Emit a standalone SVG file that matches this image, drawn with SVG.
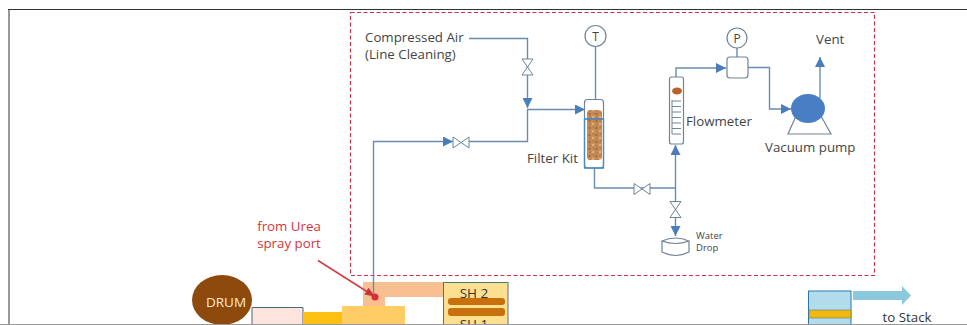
<svg xmlns="http://www.w3.org/2000/svg" width="967" height="325" viewBox="0 0 967 325">
<defs>
<marker id="arr" markerUnits="userSpaceOnUse" markerWidth="10" markerHeight="10" refX="10" refY="5" orient="auto"><path d="M0 0L10 5L0 10Z" fill="#4a7ebb"/></marker>
<marker id="redarr" markerUnits="userSpaceOnUse" markerWidth="10" markerHeight="10" refX="9" refY="5" orient="auto"><path d="M0 1L10 5L0 9Z" fill="#c8323a"/></marker>
<g id="valve"><path d="M-8 -5.500L8 5.500V-5.500L-8 5.500Z" fill="#fff" stroke="#6f8496" stroke-width="1"/></g>
<pattern id="media" patternUnits="userSpaceOnUse" width="7" height="7"><rect width="7" height="7" fill="#c68c55"/><circle cx="1.500" cy="2" r="1.200" fill="#a9693a"/><circle cx="5" cy="5" r="1.300" fill="#dcae7c"/><circle cx="5.500" cy="1" r=".8" fill="#ad7040"/><circle cx="2" cy="5.500" r=".9" fill="#b67a48"/></pattern>
</defs>
<style>
text{font-family:"Open Sans","Noto Sans","Liberation Sans",sans-serif;fill:#444}
.pipe{fill:none;stroke:#6a8cb0;stroke-width:1.4}
.eq{fill:#fff;stroke:#6f8496;stroke-width:1.2}
.lb{font-size:13.300px}
</style>
<rect width="967" height="325" fill="#fff"/>
<path d="M9 325V9.500" fill="none" stroke="#777" stroke-width="1.500"/>
<path d="M8 9.500H967" stroke="#333" stroke-width="1.200"/>
<rect id="boundary" x="350.500" y="12.500" width="524" height="263" fill="none" stroke="#c8324a" stroke-width="1.200" stroke-dasharray="4 2.500"/>

<g id="ductwork">
<path d="M252 325V307.500H303V325" fill="#fde4dc" stroke="#4a6880" stroke-width="1"/>
<rect x="303" y="312" width="39" height="13" fill="#fcc010"/>
<rect x="342" y="306" width="63" height="19" fill="#ffcc66"/>
<rect x="363" y="282" width="22" height="24" fill="#f8c090"/>
<rect x="363" y="282" width="81" height="15" fill="#f8c090"/>
<circle cx="375" cy="297" r="3.500" fill="#dd2c3c"/>
</g>

<g id="connectors">
<path class="pipe" d="M469 38.500H527.500V108" marker-end="url(#arr)"/>
<path class="pipe" d="M373.500 296V141.500H453" marker-end="url(#arr)"/>
<path class="pipe" d="M469 141.500H527.500V109.500H585" marker-end="url(#arr)"/>
<path class="pipe" d="M595.500 47V100"/>
<path class="pipe" d="M594.500 168V188H675.500V145" marker-end="url(#arr)"/>
<path class="pipe" d="M675.500 188V236" marker-end="url(#arr)"/>
<path class="pipe" d="M676 78V68H726" marker-end="url(#arr)"/>
<path class="pipe" d="M737 47V57"/>
<path class="pipe" d="M748 67.500H769.500V109H791" marker-end="url(#arr)"/>
<path class="pipe" d="M820 98V57" marker-end="url(#arr)"/>
<path d="M318 260.500L374 296" fill="none" stroke="#d23a45" stroke-width="1.500" marker-end="url(#redarr)"/>
</g>

<g id="valve-air"><use href="#valve" transform="translate(527.500 67) rotate(90)"/></g>
<g id="valve-inlet"><use href="#valve" transform="translate(461 142.500)"/></g>
<g id="valve-outlet"><use href="#valve" transform="translate(642 189)"/></g>
<g id="valve-drain"><use href="#valve" transform="translate(675.500 209.500) rotate(90)"/></g>

<g id="compressed-air"><text class="lb" x="365" y="42">Compressed Air</text><text class="lb" x="365" y="59">(Line Cleaning)</text></g>

<g id="t-gauge"><circle class="eq" cx="595.500" cy="36" r="10.500"/><text x="595.500" y="41" font-size="12" text-anchor="middle">T</text></g>
<g id="filter-kit">
<rect class="eq" x="584.500" y="99.500" width="19" height="68.500" rx="3"/>
<path d="M584.500 119V168H603.500V119" fill="none" stroke="#4a8ac0" stroke-width="1.300"/>
<rect x="587" y="110" width="15" height="50" rx="3" fill="url(#media)"/>
<path d="M584.500 119H603.500" stroke="#3d85c6" stroke-width="1.500"/>
<text class="lb" x="527" y="163">Filter Kit</text>
</g>

<g id="flowmeter">
<rect class="eq" x="669.500" y="77" width="14" height="67" rx="2"/>
<ellipse cx="677" cy="91" rx="5" ry="3.500" fill="#b8642a"/>
<path d="M672 101H681M672 106.500H681M672 112H681M672 117.500H681M672 123H681M672 128.500H681M672 134H681M672 100V134" stroke="#6f8496" fill="none"/>
<text class="lb" x="686" y="126">Flowmeter</text>
</g>

<g id="p-gauge"><circle class="eq" cx="737" cy="38" r="10"/><text x="737" y="42.500" font-size="12" text-anchor="middle">P</text></g>
<g id="p-box"><rect class="eq" x="727" y="57" width="21" height="21" rx="3"/></g>

<g id="vacuum-pump">
<path d="M788 134H831L821 116H796Z" class="eq"/>
<ellipse cx="808" cy="108.500" rx="17" ry="14.500" fill="#4a7ec4"/>
<text class="lb" x="765" y="152">Vacuum pump</text>
</g>
<g id="vent"><text class="lb" x="816" y="44">Vent</text></g>

<g id="water-drop">
<path class="eq" d="M662 241V252Q675.500 259 689 252V241Q675.500 235 662 241Q675.500 246 689 241"/>
<text x="696" y="239" font-size="9.500">Water</text><text x="696" y="251" font-size="9.500">Drop</text>
</g>

<g id="urea-label"><text x="289" y="231" font-size="13.300" text-anchor="middle" style="fill:#d4353c">from Urea</text><text x="289" y="248" font-size="13.300" text-anchor="middle" style="fill:#d4353c">spray port</text></g>

<g id="drum"><ellipse cx="222" cy="300" rx="30" ry="25" fill="#8e4a0c"/><text x="226" y="307" font-size="13.500" text-anchor="middle" style="fill:#fbe8d0">DRUM</text></g>

<g id="sh">
<rect x="443.500" y="282.500" width="64.500" height="43" fill="#fde08f" stroke="#4a7a80" stroke-width="1"/>
<text x="474" y="298" font-size="13.500" text-anchor="middle" style="fill:#333">SH 2</text>
<text x="474" y="329" font-size="13.500" text-anchor="middle" style="fill:#333">SH 1</text>
<rect x="448" y="298" width="57" height="7" rx="3" fill="#c8700e"/>
<rect x="448" y="308" width="57" height="8" rx="3" fill="#c8700e"/>
</g>

<g id="stack">
<rect x="808.500" y="291" width="42.500" height="34" fill="#b0dcec" stroke="#2e74b5" stroke-width="1"/>
<rect x="809" y="310" width="42" height="8" fill="#f2b811" stroke="#5f8060" stroke-width=".6"/>
<path d="M853 291H902V286L911 295.500L902 305V300H853Z" fill="#8cc8dc"/>
<text x="907" y="322" font-size="13.300" text-anchor="middle" style="fill:#333">to Stack</text>
</g>
<path d="M0 324.500H967" stroke="#999" stroke-width="1"/>
</svg>
